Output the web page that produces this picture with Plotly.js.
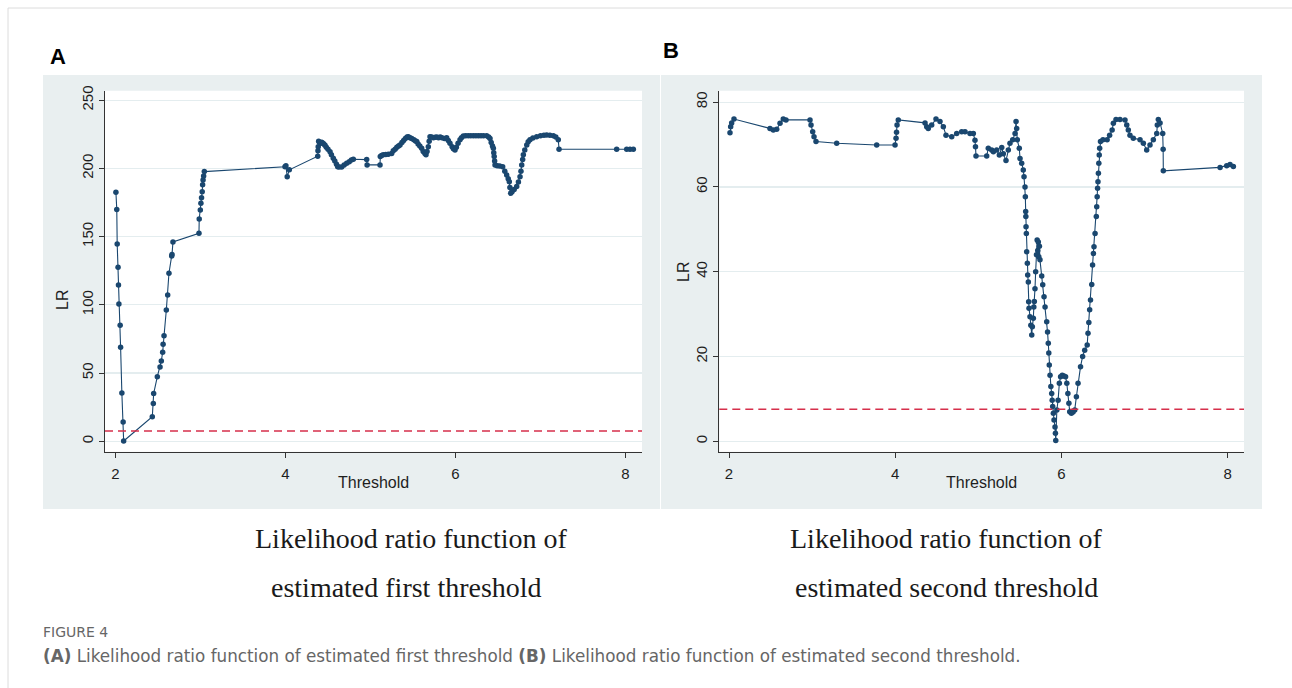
<!DOCTYPE html>
<html>
<head>
<meta charset="utf-8">
<script src="https://cdn.plot.ly/plotly-3.0.1.min.js"></script>
<style>html,body{margin:0;padding:0;background:#fff;}#chart{width:1292px;height:688px;}</style>
</head>
<body>
<div id="chart"></div>
<script>
// ---------------- DATA ----------------
// Panel A: likelihood ratio of the first threshold
const thresholdA = [
  2.005,2.015,2.02,2.03,2.035,2.04,2.055,2.06,2.075,2.09,2.096,
  2.433,2.445,2.449,2.492,2.524,2.539,2.555,2.56,2.571,2.598,2.614,2.629,2.661,2.665,2.676,
  2.982,2.985,2.998,3.005,3.012,3.02,3.025,3.03,3.037,3.045,
  3.994,4.005,4.02,4.045,
  4.379,4.382,4.385,4.39,4.40,4.41,4.426,4.44,4.45,4.465,4.48,4.50,4.524,4.54,4.562,4.58,4.60,4.614,4.63,4.661,4.69,4.72,4.75,4.775,4.798,
  4.955,4.96,5.112,5.115,5.13,5.15,5.18,5.21,5.249,5.268,5.29,5.31,5.33,5.347,5.37,5.39,5.41,5.43,5.445,5.465,5.485,5.51,5.53,5.544,5.56,5.58,5.602,5.62,5.64,5.653,5.665,5.68,5.69,5.70,5.72,5.74,5.76,5.78,5.80,5.82,5.84,5.87,5.896,5.915,5.935,5.96,5.975,5.994,6.01,6.03,6.053,6.07,6.092,6.12,6.15,6.18,6.21,6.24,6.27,6.30,6.33,6.367,6.39,6.406,6.42,6.435,6.445,6.45,6.455,6.46,6.465,6.49,6.52,6.555,6.58,6.602,6.62,6.633,6.64,6.649,6.665,6.69,6.72,6.74,6.759,6.77,6.779,6.79,6.798,6.815,6.838,6.855,6.876,6.91,6.955,7.00,7.04,7.073,7.11,7.151,7.18,7.209,7.218,
  7.896,8.014,8.053,8.092
];
const lrA = [
  182.5,170,144.6,127.5,114.6,100.6,85,69,35.4,14.1,0.2,
  18,27.8,35,47.4,54.5,58.9,65.2,71.1,77.4,96.3,107.3,123.2,135.9,137,146.1,
  152.5,163,169.6,174.5,178.6,183,188,191.6,194.5,197.7,
  201.3,202,194,199,
  209,213,216,220,219,218.5,219.2,218.5,218,217,215.5,214,212.3,210,207.5,205.5,203,201.3,201,201,202.5,203.8,205,206.2,206.7,
  206.5,202.6,202.6,208.7,209.5,210,210.3,210.5,211,213,214,215.5,216.5,217.2,219,220.5,222,223,223.3,222.5,222,221,220.2,219.7,218,216.5,214.8,212.5,211,210,212.5,216,220,223.3,223,222.5,222.8,223,222.5,223,222.5,222,222.5,220.5,218.5,216,214.5,213.6,215.5,218.5,221,222.5,223.8,224,224,224,224,224,224,224,224,224,223,222,219,216.5,214.8,211.5,208.7,205.5,202.6,202,201.8,201.3,198,195.2,192.5,190.3,186,181.8,183,184.5,186.7,190,194,198,202.6,206.5,210,213.5,217.2,219.5,221,222.3,223.3,224,224.4,224.6,224.3,224,223,221,214.1,
  214.1,214.1,214.1,214.1
];

// Panel B: likelihood ratio of the second threshold
const thresholdB = [
  2.012,2.020,2.032,2.060,2.493,2.533,2.574,2.614,2.653,2.686,2.975,2.987,3.007,3.023,3.047,3.296,3.777,
  3.998,4.010,4.016,4.022,4.037,4.359,4.379,4.398,4.439,4.491,4.539,4.579,4.611,4.680,4.740,4.800,4.840,4.900,4.940,4.960,4.966,4.972,
  5.101,5.120,5.161,5.181,5.221,5.253,5.282,5.301,5.333,5.361,5.381,5.414,5.442,5.454,5.462,5.469,5.493,5.502,5.522,5.541,5.550,5.562,5.566,5.570,5.572,5.574,5.578,5.582,5.590,5.594,5.602,5.606,5.610,5.622,5.632,5.643,5.650,
  5.662,5.668,5.674,5.682,5.690,5.700,5.708,5.715,5.722,5.728,5.735,5.742,5.763,5.775,5.791,5.803,5.823,5.833,5.842,5.848,5.854,5.863,5.873,5.883,5.889,5.895,5.903,5.911,5.923,5.928,5.932,
  5.945,5.960,5.975,5.990,6.010,6.030,6.050,6.065,6.078,6.090,6.100,6.120,6.140,6.160,
  6.180,6.200,6.230,6.255,6.280,6.310,6.320,6.330,6.340,6.350,6.365,6.375,6.385,6.392,6.405,6.420,6.425,6.430,6.435,6.440,6.445,6.450,6.455,6.460,6.470,6.500,6.550,6.580,6.610,6.625,6.657,6.705,6.765,6.786,6.805,6.825,6.865,6.946,6.986,7.026,7.066,7.106,7.147,7.154,7.166,7.187,7.219,7.224,7.226,
  7.909,7.989,8.029,8.069
];
const lrB = [
  72.8,74.2,75.1,76.0,73.8,73.4,73.6,75.0,76.0,75.8,75.8,74.6,73.0,71.8,70.7,70.3,69.9,
  69.9,71.5,72.9,74.6,75.8,75.1,74.2,73.8,74.6,76.0,75.4,74.2,72.2,71.8,72.6,73.0,73.0,72.6,72.6,71.0,69.5,67.3,
  67.3,69.1,68.7,68.3,68.7,67.5,69.3,67.8,66.2,68.7,70.3,71.1,72.6,75.4,73.8,71.1,69.1,66.7,65.6,64.0,62.4,60.0,57.7,54.2,53.0,50.6,49.0,44.7,42.0,39.2,37.6,32.9,31.4,29.4,27.4,25.1,27.0,
  29.0,31.7,33.0,36.0,40.0,44.0,47.5,45.0,47.0,43.5,46.0,42.8,39.0,36.9,34.1,31.7,28.2,25.8,23.1,20.8,18.0,15.6,12.9,11.3,9.7,8.2,6.6,5.0,3.4,1.9,0.2,
  7.4,9.7,13.7,15.2,15.6,15.4,15.2,13.7,11.3,9.0,7.0,6.6,6.9,7.4,
  10.5,13.7,17.6,20.0,21.5,22.7,25.5,28.0,31.0,33.3,37.0,41.6,44.3,45.9,49.0,53.0,55.3,57.7,59.7,61.2,63.2,65.6,67.5,69.1,70.7,71.1,71.1,72.2,73.4,75.0,75.9,75.9,75.8,74.6,73.4,72.2,71.5,71.1,70.3,68.7,69.9,71.1,72.6,74.6,75.9,75.1,72.6,68.9,63.8,
  64.6,65.0,65.3,64.8
];

const criticalA = 7.55;   // dashed reference line, panel A
const criticalB = 7.55;   // dashed reference line, panel B

const xTicks = [2, 4, 6, 8];
const yTicksA = [0, 50, 100, 150, 200, 250];
const yTicksB = [0, 20, 40, 60, 80];

const panelLabels = ["A", "B"];
const captionA = ["Likelihood ratio function of", "estimated first threshold"];
const captionB = ["Likelihood ratio function of", "estimated second threshold"];
const figureLabel = "FIGURE 4";
const figureCaption = "<b>(A)</b> Likelihood ratio function of estimated first threshold <b>(B)</b> Likelihood ratio function of estimated second threshold.";

// ---------------- LAYOUT HELPERS ----------------
const W = 1292, H = 688;
const px = v => v / W;
const py = v => 1 - v / H;

const navy = '#1a476f';
const bgGray = '#e9eff0';
const gridCol = '#e4edef';
const tickFont = {family: 'Liberation Sans, Arial, sans-serif', size: 15, color: '#1e1e1e'};

function lrTrace(x, y, xa, ya) {
  return {
    x: x, y: y, xaxis: xa, yaxis: ya, type: 'scatter', mode: 'lines+markers',
    line: {color: navy, width: 1.1},
    marker: {color: navy, size: 5.5, symbol: 'circle', line: {width: 0}},
    hoverinfo: 'x+y', showlegend: false
  };
}

const data = [
  lrTrace(thresholdA, lrA, 'x', 'y'),
  lrTrace(thresholdB, lrB, 'x2', 'y2')
];

function xAxis(domain, anchor) {
  return {
    domain: domain, anchor: anchor, range: null,
    tickvals: xTicks, ticktext: xTicks.map(String),
    ticks: 'outside', ticklen: 5, tickcolor: '#333', tickwidth: 1,
    showline: true, linecolor: '#333', linewidth: 1,
    showgrid: false, zeroline: false, tickfont: tickFont, ticklabelstandoff: 3
  };
}
function yAxis(domain, anchor, ticks) {
  return {
    domain: domain, anchor: anchor,
    tickvals: ticks, ticktext: ticks.map(String), tickangle: -90,
    ticks: 'outside', ticklen: 5, tickcolor: '#333', tickwidth: 1,
    showline: true, linecolor: '#333', linewidth: 1,
    showgrid: true, gridcolor: gridCol, gridwidth: 1.2,
    zeroline: false, tickfont: tickFont
  };
}

const yDom = [py(451.7), py(90.7)];
const xa1 = xAxis([px(105), px(642)], 'y');   xa1.range = [1.8765, 8.194];
const ya1 = yAxis(yDom, 'x', yTicksA);        ya1.range = [-7.62, 257.0];
const xa2 = xAxis([px(719.3), px(1244)], 'y2'); xa2.range = [1.8833, 8.197];
const ya2 = yAxis(yDom, 'x2', yTicksB);        ya2.range = [-2.45, 82.69];

function rect(x0, y0, x1, y1, color) {
  return {type: 'rect', xref: 'paper', yref: 'paper', x0: px(x0), x1: px(x1), y0: py(y1), y1: py(y0),
          fillcolor: color, line: {width: 0}, layer: 'below'};
}

const shapes = [
  rect(43, 75, 660, 509, bgGray),
  rect(661, 75, 1262, 509, bgGray),
  rect(105, 90.7, 642, 451.7, '#ffffff'),
  rect(719.3, 90.7, 1244, 451.7, '#ffffff'),
  {type: 'line', xref: 'paper', yref: 'paper', x0: px(8), x1: 1, y0: py(8), y1: py(8), line: {color: '#dcdcdc', width: 1}},
  {type: 'line', xref: 'paper', yref: 'paper', x0: px(8), x1: px(8), y0: py(8), y1: 0, line: {color: '#dcdcdc', width: 1}},
  {type: 'line', xref: 'x domain', yref: 'y', x0: 0, x1: 1, y0: criticalA, y1: criticalA,
   line: {color: '#d62f4b', width: 1.4, dash: '8px,5px'}},
  {type: 'line', xref: 'x2 domain', yref: 'y2', x0: 0, x1: 1, y0: criticalB, y1: criticalB,
   line: {color: '#d62f4b', width: 1.4, dash: '8px,5px'}}
];

function ann(text, x, y, font, opts) {
  return Object.assign({text: text, xref: 'paper', yref: 'paper', x: px(x), y: py(y),
    xanchor: 'center', yanchor: 'middle', showarrow: false, font: font}, opts || {});
}
const serif = {family: 'Liberation Serif, Times New Roman, serif', size: 28, color: '#1a1a1a'};
const axTitle = {family: 'Liberation Sans, Arial, sans-serif', size: 16, color: '#1e1e1e'};
const capFont = {family: 'DejaVu Sans, Verdana, sans-serif', size: 16.8, color: '#666'};
const annotations = [
  ann(panelLabels[0], 58, 56, {family: 'Liberation Sans, Arial, sans-serif', size: 22, color: '#000', weight: 'bold'}),
  ann(panelLabels[1], 671, 50, {family: 'Liberation Sans, Arial, sans-serif', size: 22, color: '#000', weight: 'bold'}),
  ann('LR', 62, 300, axTitle, {textangle: -90}),
  ann('LR', 683, 272, axTitle, {textangle: -90}),
  ann('Threshold', 373.5, 482, axTitle),
  ann('Threshold', 981.5, 482, axTitle),
  ann(captionA[0], 411, 538, serif),
  ann(captionA[1], 406, 587, serif),
  ann(captionB[0], 946, 538, serif),
  ann(captionB[1], 946, 587, serif),
  ann(figureLabel, 41, 632, {family: 'DejaVu Sans, Verdana, sans-serif', size: 14, color: '#666'}, {xanchor: 'left'}),
  ann(figureCaption, 41, 656, capFont, {xanchor: 'left'})
];

const layout = {
  width: W, height: H,
  margin: {l: 0, r: 0, t: 0, b: 0},
  paper_bgcolor: '#ffffff', plot_bgcolor: 'rgba(0,0,0,0)',
  showlegend: false,
  xaxis: xa1, yaxis: ya1, xaxis2: xa2, yaxis2: ya2,
  shapes: shapes, annotations: annotations
};

Plotly.newPlot('chart', data, layout, {displayModeBar: false, staticPlot: true});
</script>
</body>
</html>
